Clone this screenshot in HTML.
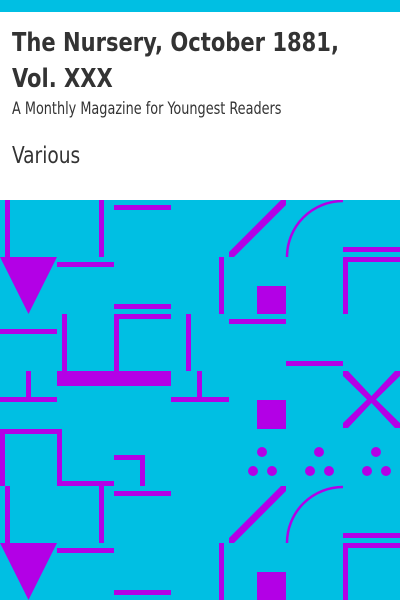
<!DOCTYPE html>
<html><head><meta charset="utf-8"><style>
html,body{margin:0;padding:0}
body{width:400px;height:600px;position:relative;overflow:hidden;background:#fff;font-family:"DejaVu Sans Condensed","DejaVu Sans","Liberation Sans",sans-serif;color:#333}
.t{position:absolute;left:12px;white-space:nowrap;margin:0;transform-origin:0 0}
</style></head><body>
<div style="position:absolute;left:0;top:0;width:400px;height:12px;background:#00bfe3"></div>
<div class="t" style="top:25px;font-size:26px;font-weight:bold;line-height:36px;transform:scaleX(0.9)">The Nursery, October 1881,<br>Vol. XXX</div>
<div class="t" style="top:99px;font-size:16.5px;line-height:20px;transform:scaleX(0.865)">A Monthly Magazine for Youngest Readers</div>
<div class="t" style="top:142px;font-size:23px;line-height:28px;transform:scaleX(0.9)">Various</div>
<svg style="position:absolute;left:0;top:200px" width="400" height="400" viewBox="0 200 400 400">
<rect x="0" y="200" width="400" height="400" fill="#00bfe3"/>
<defs>
<g id="band" fill="#b300e6">
<rect x="5" y="200" width="5" height="57"/>
<polygon points="0,257 57,257 28.5,314"/>
<rect x="99" y="200" width="5" height="57"/>
<rect x="114" y="205" width="57" height="5"/>
<rect x="57" y="262" width="57" height="5"/>
<polygon points="229,252 281,200 286,200 286,205 234,257 229,257"/>
<path d="M287,257 A56,56 0 0 1 343,201" fill="none" stroke="#b300e6" stroke-width="2.5"/>
<rect x="343" y="247" width="57" height="5"/>
<rect x="343" y="257" width="57" height="5"/>
<rect x="343" y="257" width="5" height="57"/>
<rect x="219" y="257" width="5" height="57"/>
<rect x="257" y="286" width="29" height="28"/>
</g>
</defs>
<g><use href="#band"/></g>
<g><use href="#band" transform="translate(0,286)"/></g>
<g fill="#b300e6">
<rect x="229" y="319" width="57" height="5"/>
<rect x="0" y="329" width="57" height="5"/>
<rect x="114" y="304" width="57" height="5"/>
<rect x="114" y="314" width="57" height="5"/>
<rect x="114" y="314" width="5" height="57"/>
<rect x="62" y="314" width="5" height="57"/>
<rect x="186" y="314" width="5" height="57"/>
<rect x="57" y="371" width="114" height="15"/>
<rect x="26" y="371" width="5" height="28"/>
<rect x="0" y="397" width="57" height="5"/>
<rect x="197" y="371" width="5" height="28"/>
<rect x="171" y="397" width="58" height="5"/>
<rect x="286" y="361" width="57" height="5"/>
<rect x="257" y="400" width="29" height="29"/>
<polygon points="343,371 348,371 371.5,396 395,371 400,371 400,376 376,399.5 400,423 400,428 395,428 371.5,403 348,428 343,428 343,423 367,399.5 343,376"/>
<rect x="0" y="429" width="62" height="5"/>
<rect x="0" y="429" width="5" height="57"/>
<rect x="57" y="429" width="5" height="57"/>
<rect x="57" y="481" width="57" height="5"/>
<rect x="114" y="455" width="31" height="5"/>
<rect x="140" y="455" width="5" height="31"/>
<rect x="114" y="491" width="57" height="5"/>
<rect x="57" y="548" width="57" height="5"/>
<rect x="114" y="590" width="57" height="5"/>
<circle cx="262" cy="452" r="5"/><circle cx="253" cy="471" r="5"/><circle cx="272" cy="471" r="5"/>
<circle cx="319" cy="452" r="5"/><circle cx="310" cy="471" r="5"/><circle cx="329" cy="471" r="5"/>
<circle cx="376" cy="452" r="5"/><circle cx="367" cy="471" r="5"/><circle cx="386" cy="471" r="5"/>
</g>
</svg>
</body></html>
